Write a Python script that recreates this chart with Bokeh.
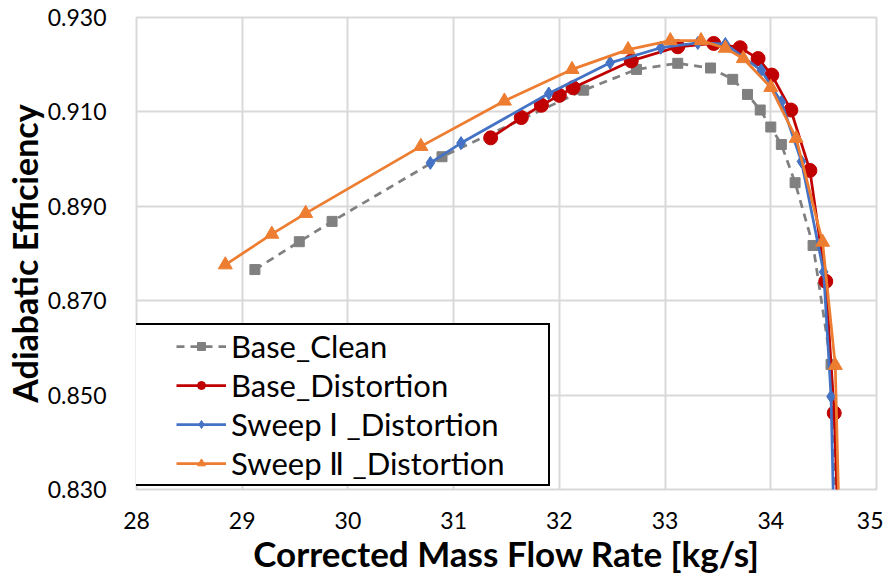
from bokeh.plotting import figure
from bokeh.models import Legend, LegendItem, FixedTicker, NumeralTickFormatter, Range1d
from bokeh.embed import file_html
from bokeh.resources import INLINE

# Base_Clean
x_clean = [29.12, 29.54, 29.85, 30.89, 32.23, 32.73, 33.12, 33.43, 33.64, 33.78,
           33.90, 34.00, 34.10, 34.23, 34.40, 34.57, 34.63]
y_clean = [0.8766, 0.8825, 0.8868, 0.9005, 0.9146, 0.9190, 0.9203, 0.9193, 0.9169, 0.9137,
           0.9104, 0.9068, 0.9031, 0.8950, 0.8817, 0.8565, 0.8200]
# Base_Distortion
x_base = [31.35, 31.64, 31.83, 32.00, 32.13, 32.68, 33.12, 33.46, 33.71, 33.88,
          34.01, 34.19, 34.37, 34.52, 34.60, 34.64]
y_base = [0.9045, 0.9088, 0.9114, 0.9135, 0.9151, 0.9208, 0.9238, 0.9245, 0.9236, 0.9213,
          0.9178, 0.9104, 0.8976, 0.8741, 0.8462, 0.8200]
# Sweep I_Distortion
x_s1 = [30.78, 31.07, 31.90, 32.48, 32.96, 33.31, 33.57, 33.91, 34.10, 34.29,
        34.50, 34.57, 34.60]
y_s1 = [0.8992, 0.9034, 0.9139, 0.9204, 0.9236, 0.9246, 0.9244, 0.9188, 0.9121, 0.8995,
        0.8761, 0.8497, 0.8200]
# Sweep II_Distortion
x_s2 = [28.84, 29.28, 29.60, 30.69, 31.48, 32.12, 32.65, 33.05, 33.34, 33.57,
        33.74, 34.00, 34.24, 34.49, 34.61, 34.65]
y_s2 = [0.8776, 0.8841, 0.8885, 0.9027, 0.9123, 0.9190, 0.9232, 0.9251, 0.9251, 0.9235,
        0.9213, 0.9152, 0.9044, 0.8824, 0.8563, 0.8200]

x_ticks = [28, 29, 30, 31, 32, 33, 34, 35]
y_ticks = [0.83, 0.85, 0.87, 0.89, 0.91, 0.93]
labels = ["Base_Clean", "Base_Distortion", "Sweep \u2160 _Distortion", "Sweep \u2161 _Distortion"]
colors = ["#808080", "#c00000", "#4472c4", "#ed7d31"]

FONT = "Lato"

p = figure(frame_width=740, frame_height=472, min_border_left=135, min_border_top=17,
           min_border_right=7, min_border_bottom=86,
           x_range=Range1d(28, 35), y_range=Range1d(0.83, 0.93),
           output_backend="svg", toolbar_location=None)

p.outline_line_color = "#d9d9d9"
p.outline_line_width = 2
for g in (p.xgrid, p.ygrid):
    g.grid_line_color = "#d9d9d9"
    g.grid_line_width = 2

p.xaxis.ticker = FixedTicker(ticks=x_ticks)
p.yaxis.ticker = FixedTicker(ticks=y_ticks)
p.yaxis.formatter = NumeralTickFormatter(format="0.000")
for ax in (p.xaxis, p.yaxis):
    ax.axis_line_color = None
    ax.major_tick_line_color = None
    ax.minor_tick_line_color = None
    ax.major_label_text_font = FONT
    ax.major_label_text_font_size = "23px"
    ax.major_label_text_color = "#000000"
    ax.axis_label_text_font = FONT
    ax.axis_label_text_font_style = "bold"
    ax.axis_label_text_color = "#000000"
p.xaxis.axis_label_text_font_size = "35px"
p.yaxis.axis_label_text_font_size = "34px"
p.xaxis.axis_label = "Corrected Mass Flow Rate [kg/s]"
p.yaxis.axis_label = "Adiabatic Efficiency"
p.xaxis.major_label_standoff = 16
p.yaxis.major_label_standoff = 24
p.xaxis.axis_label_standoff = 0
p.yaxis.axis_label_standoff = 0

l1 = p.line(x_clean, y_clean, line_color=colors[0], line_width=2.75, line_dash="8 6")
s1 = p.scatter(x_clean, y_clean, marker="square", size=10, fill_color=colors[0], line_color=colors[0])
l2 = p.line(x_base, y_base, line_color=colors[1], line_width=2.75)
s2 = p.scatter(x_base, y_base, marker="circle", size=14, fill_color=colors[1], line_color=colors[1])
l3 = p.line(x_s1, y_s1, line_color=colors[2], line_width=2.75)
s3 = p.scatter(x_s1, y_s1, marker="diamond", size=13, fill_color=colors[2], line_color=colors[2])
l4 = p.line(x_s2, y_s2, line_color=colors[3], line_width=2.75)
s4 = p.scatter(x_s2, y_s2, marker="triangle", size=14, fill_color=colors[3], line_color=colors[3])

items = [LegendItem(label=labels[0], renderers=[l1, s1]),
         LegendItem(label=labels[1], renderers=[l2, s2]),
         LegendItem(label=labels[2], renderers=[l3, s3]),
         LegendItem(label=labels[3], renderers=[l4, s4])]
legend = Legend(items=items, location=(-2, 3), title=" ", title_location="left",
                title_text_font_size="20px", title_standoff=15,
                padding=2, spacing=1, glyph_height=20, glyph_width=50,
                label_height=37, label_standoff=5, label_width=315,
                label_text_font=FONT, label_text_font_size="31px", label_text_color="#000000",
                border_line_color="#000000", border_line_width=2.5, border_line_alpha=1.0,
                background_fill_color="#ffffff", background_fill_alpha=1.0)
p.add_layout(legend)

open("out.html", "w").write(file_html(p, INLINE))
